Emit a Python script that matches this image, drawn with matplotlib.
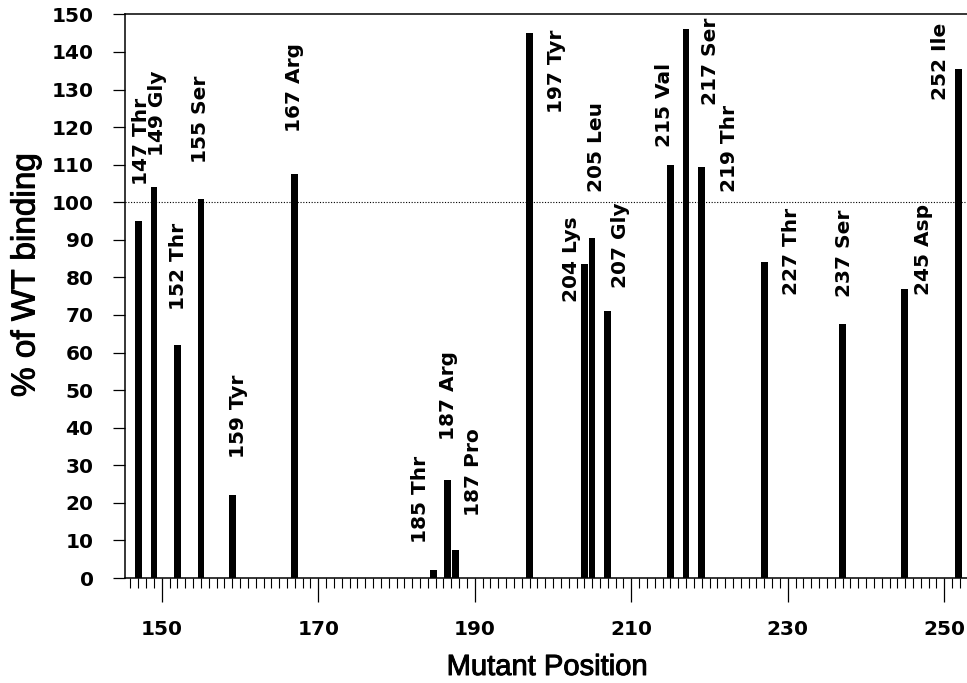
import numpy as np
import matplotlib
matplotlib.use('Agg')
import matplotlib.pyplot as plt
import matplotlib.patheffects as pe
from matplotlib.ticker import MultipleLocator

# =========================================================
# DATA
# =========================================================

MUTANTS = ['147 Thr', '149 Gly', '152 Thr', '155 Ser', '159 Tyr', '167 Arg',
           '185 Thr', '187 Arg', '187 Pro', '197 Tyr', '204 Lys', '205 Leu',
           '207 Gly', '215 Val', '217 Ser', '219 Thr', '227 Thr', '237 Ser',
           '245 Asp', '252 Ile']
# bar centre on the position axis (the two 187 mutants sit side by side)
POSITION = [147, 149, 152, 155, 159, 167, 184.7, 186.5, 187.5, 197, 204, 205,
            207, 215, 217, 219, 227, 237, 244.9, 251.8]
BINDING = [95, 104, 62, 101, 22, 107.5, 2, 26, 7.5, 145, 83.5, 90.5,
           71, 110, 146, 109.5, 84, 67.5, 77, 135.5]

# where each rotated label starts (x centre, bottom of text) in data units
LABEL_X = [147.4, 149.5, 152.1, 155.0, 159.8, 167.0, 183.1, 186.6, 189.8,
           200.5, 202.4, 205.6, 208.6, 214.2, 220.1, 222.6, 230.5, 237.3,
           247.4, 249.5]
LABEL_Y = [104.6, 112.2, 71.3, 110.4, 31.9, 118.8, 9.2, 36.7, 16.6, 123.7,
           73.5, 102.8, 77.1, 114.8, 125.9, 102.8, 75.3, 74.9, 75.3, 127.2]

X_TICKS = [150, 170, 190, 210, 230, 250]
WT_LEVEL = 100

# =========================================================
# FIGURE
# =========================================================

W, H = 967, 683
fig = plt.figure(figsize=(W / 100, H / 100), dpi=100)
ax = fig.add_axes([125 / W, (H - 578) / H, (W - 125) / W, (578 - 14.4) / H])

ax.bar(POSITION, BINDING, width=0.85, color='black', zorder=3)
ax.axhline(WT_LEVEL, color='black', ls=(0, (1, 1.5)), lw=0.8, zorder=2)

for lbl, lx, ly in zip(MUTANTS, LABEL_X, LABEL_Y):
    ax.text(lx, ly, lbl, rotation=90, ha='center', va='bottom',
            fontsize=14.5, fontweight='bold', family='DejaVu Sans')

ax.set_xlim(145.3, 252.9)
ax.set_ylim(0, 150)
ax.set_xticks(X_TICKS)
ax.xaxis.set_minor_locator(MultipleLocator(1))
ax.yaxis.set_major_locator(MultipleLocator(10))

ax.spines['right'].set_visible(False)
for s in ['left', 'bottom', 'top']:
    ax.spines[s].set_linewidth(1.1)

ax.tick_params(axis='x', which='major', direction='out', length=17, width=0.9, pad=13)
ax.tick_params(axis='x', which='minor', direction='out', length=7, width=0.8)
ax.tick_params(axis='y', which='major', direction='out', length=8.6, width=0.9, pad=14)
for t in ax.get_xticklabels() + ax.get_yticklabels():
    t.set_fontsize(14.5)
    t.set_fontweight('bold')
    t.set_family('DejaVu Sans')

# axis titles are a medium-weight sans in the original: thicken slightly
heavy = [pe.withStroke(linewidth=0.7, foreground='black')]
fig.text(547 / W, 1 - 667 / H, 'Mutant Position', ha='center', va='center',
         fontsize=21, family='Liberation Sans', path_effects=heavy)
fig.text(26 / W, 1 - 275 / H, '% of WT binding', ha='center', va='center',
         rotation=90, fontsize=24, family='Liberation Sans', path_effects=heavy)

fig.savefig('out.png', dpi=100)
plt.close()
